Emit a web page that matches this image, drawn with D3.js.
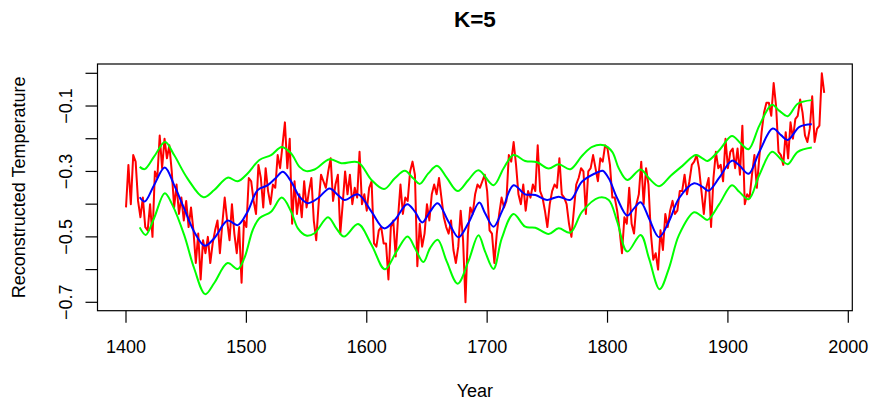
<!DOCTYPE html>
<html>
<head>
<meta charset="utf-8">
<script src="https://cdn.jsdelivr.net/npm/d3@7"></script>
<style>
  body { margin: 0; background: #fff; }
  text { font-family: "Liberation Sans", Arial, sans-serif; fill: #000; }
</style>
</head>
<body>
<script>
// reconstructed temperature, one value every 2 years from 1400
var tempYears = d3.range(1400, 1981, 2);
var temps = [
  -0.41,-0.28,-0.40,-0.25,-0.27,-0.39,-0.44,-0.38,-0.47,-0.48,-0.40,-0.50,-0.30,-0.32,-0.19,-0.29,-0.20,-0.26,-0.22,-0.30,
  -0.41,-0.34,-0.43,-0.38,-0.45,-0.39,-0.47,-0.41,-0.48,-0.58,-0.49,-0.63,-0.51,-0.55,-0.50,-0.58,-0.52,-0.48,-0.45,-0.55,
  -0.46,-0.38,-0.45,-0.51,-0.40,-0.49,-0.55,
  -0.47,-0.64,-0.45,-0.47,-0.32,-0.33,-0.39,-0.43,-0.28,-0.32,-0.41,-0.29,-0.36,-0.40,-0.34,-0.35,-0.25,-0.29,-0.22,-0.15,
  -0.29,-0.20,-0.46,-0.33,-0.43,-0.37,-0.44,-0.33,-0.41,-0.36,-0.32,-0.45,-0.51,-0.40,-0.31,-0.33,-0.35,-0.30,-0.26,-0.39,
  -0.34,-0.31,-0.49,-0.40,-0.30,-0.37,-0.31,-0.40,-0.35,-0.38,
  -0.24,-0.40,-0.37,-0.42,-0.35,-0.33,-0.52,-0.53,-0.48,-0.47,-0.52,-0.52,-0.63,-0.47,-0.45,-0.56,-0.44,-0.34,-0.43,-0.38,
  -0.39,-0.30,-0.27,-0.31,-0.59,-0.46,-0.53,-0.49,-0.40,-0.45,-0.37,-0.34,-0.37,-0.32,-0.38,-0.44,-0.47,-0.49,-0.45,-0.54,
  -0.58,-0.53,-0.42,-0.51,-0.70,-0.49,-0.41,-0.43,-0.37,-0.34,
  -0.35,-0.33,-0.31,-0.36,-0.48,-0.49,-0.58,-0.49,-0.43,-0.38,-0.41,-0.39,-0.25,-0.27,-0.21,-0.28,-0.37,-0.40,-0.34,-0.42,
  -0.36,-0.38,-0.34,-0.36,-0.22,-0.36,-0.38,-0.42,-0.47,-0.40,-0.36,-0.34,-0.35,-0.26,-0.37,-0.38,-0.40,-0.46,-0.50,-0.42,
  -0.34,-0.32,-0.29,-0.30,-0.43,-0.30,-0.29,-0.25,-0.29,-0.33,
  -0.26,-0.27,-0.22,-0.23,-0.28,-0.38,-0.38,-0.42,-0.48,-0.55,-0.44,-0.46,-0.35,-0.46,-0.49,-0.40,-0.37,-0.27,-0.40,-0.29,
  -0.34,-0.49,-0.57,-0.55,-0.60,-0.48,-0.54,-0.43,-0.47,-0.42,-0.39,-0.43,-0.42,-0.36,-0.36,-0.31,-0.37,-0.33,-0.28,-0.27,
  -0.25,-0.29,-0.36,-0.43,-0.35,-0.32,-0.47,-0.32,-0.24,-0.29,
  -0.28,-0.33,-0.20,-0.29,-0.24,-0.23,-0.29,-0.23,-0.31,-0.16,-0.40,-0.37,-0.38,-0.31,-0.25,-0.35,-0.26,-0.18,-0.12,-0.09,
  -0.09,-0.13,-0.03,-0.10,-0.24,-0.25,-0.28,-0.18,-0.26,-0.15,-0.20,-0.14,-0.13,-0.08,-0.12,-0.19,-0.21,-0.17,-0.07,-0.21,
  -0.17,-0.16,0.00,-0.06
];

// smoothed fit (blue) and its band (green), [year, value]
var fitMid = [[1411.4,-0.379],[1415.5,-0.392],[1423.3,-0.342],[1432.2,-0.288],[1440,-0.342],[1448.3,-0.413],[1456.6,-0.484],[1465.5,-0.527],[1473.3,-0.504],[1484.4,-0.45],[1492.8,-0.464],[1501,-0.423],[1509.4,-0.357],[1517.8,-0.342],[1524.7,-0.319],[1530.3,-0.301],[1537.2,-0.331],[1544.1,-0.377],[1551,-0.397],[1559.4,-0.382],[1569.1,-0.352],[1576,-0.372],[1581.6,-0.387],[1592.8,-0.37],[1603.9,-0.423],[1614.4,-0.474],[1623.3,-0.448],[1633.6,-0.40],[1640,-0.423],[1646.1,-0.456],[1652.5,-0.423],[1658.9,-0.397],[1667.8,-0.453],[1676.1,-0.501],[1684.4,-0.458],[1693.5,-0.395],[1698.3,-0.428],[1705.3,-0.469],[1712.2,-0.423],[1721.9,-0.342],[1731.6,-0.37],[1740,-0.372],[1749.7,-0.387],[1759.4,-0.377],[1769.1,-0.387],[1778.9,-0.331],[1792.8,-0.301],[1796,-0.298],[1801,-0.321],[1808,-0.382],[1816.4,-0.435],[1822,-0.413],[1827.5,-0.394],[1834.4,-0.443],[1842.8,-0.501],[1851,-0.453],[1859.4,-0.382],[1871.9,-0.336],[1878.9,-0.347],[1883.9,-0.359],[1892.8,-0.319],[1903.3,-0.267],[1909.4,-0.281],[1917.2,-0.307],[1926.1,-0.24],[1937.2,-0.169],[1944.1,-0.189],[1949.7,-0.204],[1959.4,-0.164],[1969.7,-0.156]];
var fitUpper = [[1411.4,-0.286],[1415.5,-0.293],[1423.3,-0.255],[1432.5,-0.21],[1440,-0.25],[1451,-0.321],[1464.4,-0.379],[1473.3,-0.357],[1484.4,-0.319],[1492.8,-0.33],[1501,-0.306],[1510.8,-0.265],[1520.5,-0.25],[1529.4,-0.225],[1537.2,-0.245],[1544.1,-0.286],[1549.7,-0.299],[1556.6,-0.294],[1569.1,-0.263],[1578.9,-0.275],[1592.8,-0.272],[1603.9,-0.326],[1614.4,-0.354],[1623.3,-0.321],[1631.6,-0.298],[1638.6,-0.321],[1644.1,-0.338],[1651.1,-0.306],[1658.6,-0.283],[1666.4,-0.319],[1675.5,-0.36],[1684.4,-0.326],[1692.8,-0.296],[1705.3,-0.342],[1713.6,-0.291],[1721.9,-0.25],[1731.6,-0.268],[1741.4,-0.272],[1751.1,-0.291],[1759.4,-0.278],[1769.1,-0.293],[1778.9,-0.252],[1787.2,-0.225],[1796.9,-0.22],[1803.9,-0.24],[1809.4,-0.291],[1816.4,-0.326],[1827.5,-0.294],[1834.4,-0.321],[1842.8,-0.345],[1852.5,-0.313],[1862.2,-0.283],[1873.3,-0.25],[1878.9,-0.26],[1883,-0.268],[1892.8,-0.235],[1903.3,-0.192],[1910.8,-0.215],[1917.2,-0.232],[1926.1,-0.16],[1936.6,-0.096],[1942.8,-0.115],[1949.7,-0.131],[1958,-0.093],[1969.7,-0.082]];
var fitLower = [[1411.4,-0.471],[1416.4,-0.494],[1423.3,-0.443],[1432.2,-0.367],[1438.6,-0.403],[1448.3,-0.494],[1456.6,-0.596],[1465.8,-0.675],[1473.3,-0.641],[1484.4,-0.58],[1492.8,-0.598],[1498.3,-0.565],[1505.3,-0.479],[1510.8,-0.443],[1520.5,-0.423],[1529.4,-0.38],[1537.2,-0.423],[1542.8,-0.474],[1549.7,-0.496],[1556.6,-0.489],[1567.8,-0.44],[1574.7,-0.474],[1581.1,-0.499],[1592.8,-0.461],[1603.9,-0.524],[1615,-0.599],[1624.7,-0.545],[1633.9,-0.499],[1640,-0.534],[1647,-0.577],[1652.5,-0.535],[1658.9,-0.509],[1666.4,-0.575],[1675.5,-0.643],[1684.4,-0.575],[1692.8,-0.495],[1698.3,-0.545],[1705.3,-0.598],[1712.2,-0.504],[1721.9,-0.43],[1731.6,-0.469],[1740,-0.472],[1751.1,-0.491],[1759.4,-0.474],[1769.1,-0.487],[1778.9,-0.423],[1792.8,-0.38],[1801,-0.387],[1808,-0.453],[1816.4,-0.545],[1827.5,-0.494],[1834.4,-0.565],[1843.3,-0.66],[1851,-0.596],[1859.4,-0.494],[1871.9,-0.425],[1877.5,-0.435],[1883,-0.448],[1892.8,-0.40],[1903.3,-0.342],[1909.4,-0.362],[1917.2,-0.385],[1926.1,-0.311],[1936.6,-0.24],[1944.1,-0.263],[1949.7,-0.278],[1958,-0.24],[1969.7,-0.227]];

var xTicks = [1400, 1500, 1600, 1700, 1800, 1900, 2000];
var yTicks = [0, -0.1, -0.2, -0.3, -0.4, -0.5, -0.6, -0.7];
var yLabelled = [-0.1, -0.3, -0.5, -0.7];

var width = 873, height = 404;
var box = {left: 97.5, right: 852.3, top: 64, bottom: 310.7};

var x = d3.scaleLinear().domain([1400, 2000]).range([126, 848.3]);
var y = d3.scaleLinear().domain([-0.7, 0]).range([302.3, 73.3]);

var svg = d3.select("body").append("svg")
    .attr("width", width).attr("height", height);

var line = d3.line()
    .x(function(d){ return x(d[0]); })
    .y(function(d){ return y(d[1]); });

var smooth = d3.line()
    .curve(d3.curveCatmullRom.alpha(0.5))
    .x(function(d){ return x(d[0]); })
    .y(function(d){ return y(d[1]); });

var redData = tempYears.map(function(yr, i){ return [yr, temps[i]]; })
    .filter(function(d){ return d[1] !== undefined; });

svg.append("path").attr("d", line(redData))
    .attr("fill", "none").attr("stroke", "#ff0000").attr("stroke-width", 2)
    .attr("stroke-linejoin", "round");

[fitUpper, fitLower].forEach(function(band){
    svg.append("path").attr("d", smooth(band))
        .attr("fill", "none").attr("stroke", "#00ff00").attr("stroke-width", 2);
});

svg.append("path").attr("d", smooth(fitMid))
    .attr("fill", "none").attr("stroke", "#0000ff").attr("stroke-width", 2);

// frame
svg.append("rect")
    .attr("x", box.left).attr("y", box.top)
    .attr("width", box.right - box.left).attr("height", box.bottom - box.top)
    .attr("fill", "none").attr("stroke", "#000").attr("stroke-width", 1.2);

// x axis
var xg = svg.append("g");
xg.selectAll("line").data(xTicks).enter().append("line")
    .attr("x1", function(d){ return x(d); }).attr("x2", function(d){ return x(d); })
    .attr("y1", box.bottom).attr("y2", box.bottom + 12)
    .attr("stroke", "#000").attr("stroke-width", 1.2);
xg.selectAll("text").data(xTicks).enter().append("text")
    .attr("x", function(d){ return x(d); }).attr("y", 352.5)
    .attr("text-anchor", "middle").style("font-size", "18px")
    .text(function(d){ return d; });

// y axis
var yg = svg.append("g");
yg.selectAll("line").data(yTicks).enter().append("line")
    .attr("x1", box.left).attr("x2", box.left - 12)
    .attr("y1", function(d){ return y(d); }).attr("y2", function(d){ return y(d); })
    .attr("stroke", "#000").attr("stroke-width", 1.2);
yg.selectAll("text").data(yLabelled).enter().append("text")
    .attr("transform", function(d){ return "translate(71.5," + y(d) + ") rotate(-90)"; })
    .attr("text-anchor", "middle").style("font-size", "18px")
    .text(function(d){ return d3.format(".1f")(d).replace("-", "\u2212"); });

svg.append("text").attr("x", (box.left + box.right) / 2).attr("y", 26.7)
    .attr("text-anchor", "middle").style("font-size", "22.5px").style("font-weight", "bold")
    .text("K=5");

svg.append("text").attr("x", (box.left + box.right) / 2).attr("y", 397)
    .attr("text-anchor", "middle").style("font-size", "18px")
    .text("Year");

svg.append("text")
    .attr("transform", "translate(24.5," + (box.top + box.bottom) / 2 + ") rotate(-90)")
    .attr("text-anchor", "middle").style("font-size", "18px")
    .text("Reconstructed Temperature");
</script>
</body>
</html>
